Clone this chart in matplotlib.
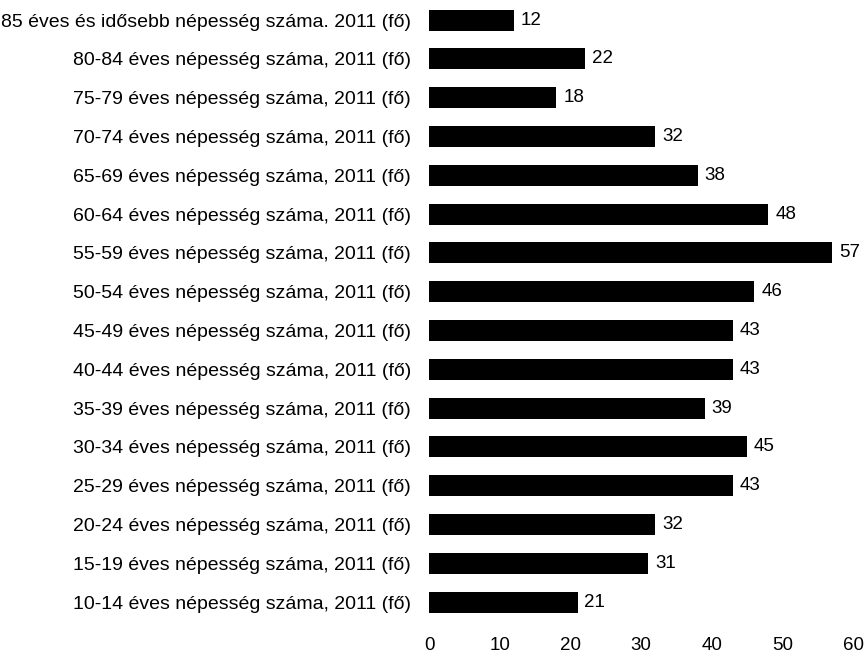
import matplotlib
matplotlib.use('Agg')
import matplotlib.pyplot as plt

plt.rcParams['font.family'] = ['Liberation Sans', 'DejaVu Sans']

# korcsoportok, felulrol lefele
categories = [
    '85 éves és idősebb népesség száma. 2011 (fő)',
    '80-84 éves népesség száma, 2011 (fő)',
    '75-79 éves népesség száma, 2011 (fő)',
    '70-74 éves népesség száma, 2011 (fő)',
    '65-69 éves népesség száma, 2011 (fő)',
    '60-64 éves népesség száma, 2011 (fő)',
    '55-59 éves népesség száma, 2011 (fő)',
    '50-54 éves népesség száma, 2011 (fő)',
    '45-49 éves népesség száma, 2011 (fő)',
    '40-44 éves népesség száma, 2011 (fő)',
    '35-39 éves népesség száma, 2011 (fő)',
    '30-34 éves népesség száma, 2011 (fő)',
    '25-29 éves népesség száma, 2011 (fő)',
    '20-24 éves népesség száma, 2011 (fő)',
    '15-19 éves népesség száma, 2011 (fő)',
    '10-14 éves népesség száma, 2011 (fő)',
]
values = [12, 22, 18, 32, 38, 48, 57, 46, 43, 43, 39, 45, 43, 32, 31, 21]
xticks = [0, 10, 20, 30, 40, 50, 60]

fig = plt.figure(figsize=(8.67, 6.57), dpi=100)
ax = fig.add_axes([0.495, 0.054, 0.489, 0.945])

pos = list(range(len(values)))[::-1]
bars = ax.barh(pos, values, height=0.54, color='black')
ax.bar_label(bars, labels=[str(v) for v in values], padding=5, fontsize=13.5)

ax.set_xlim(0, 60)
ax.set_ylim(-0.5, len(values) - 0.5)
ax.set_yticks(pos)
ax.set_yticklabels(categories, fontsize=14)
ax.set_xticks(xticks)
ax.set_xticklabels([str(t) for t in xticks], fontsize=13.5)
ax.tick_params(length=0)
ax.tick_params(axis='y', pad=13)
ax.tick_params(axis='x', pad=11)
for s in ax.spines.values():
    s.set_visible(False)

plt.savefig('out.png', dpi=100)
